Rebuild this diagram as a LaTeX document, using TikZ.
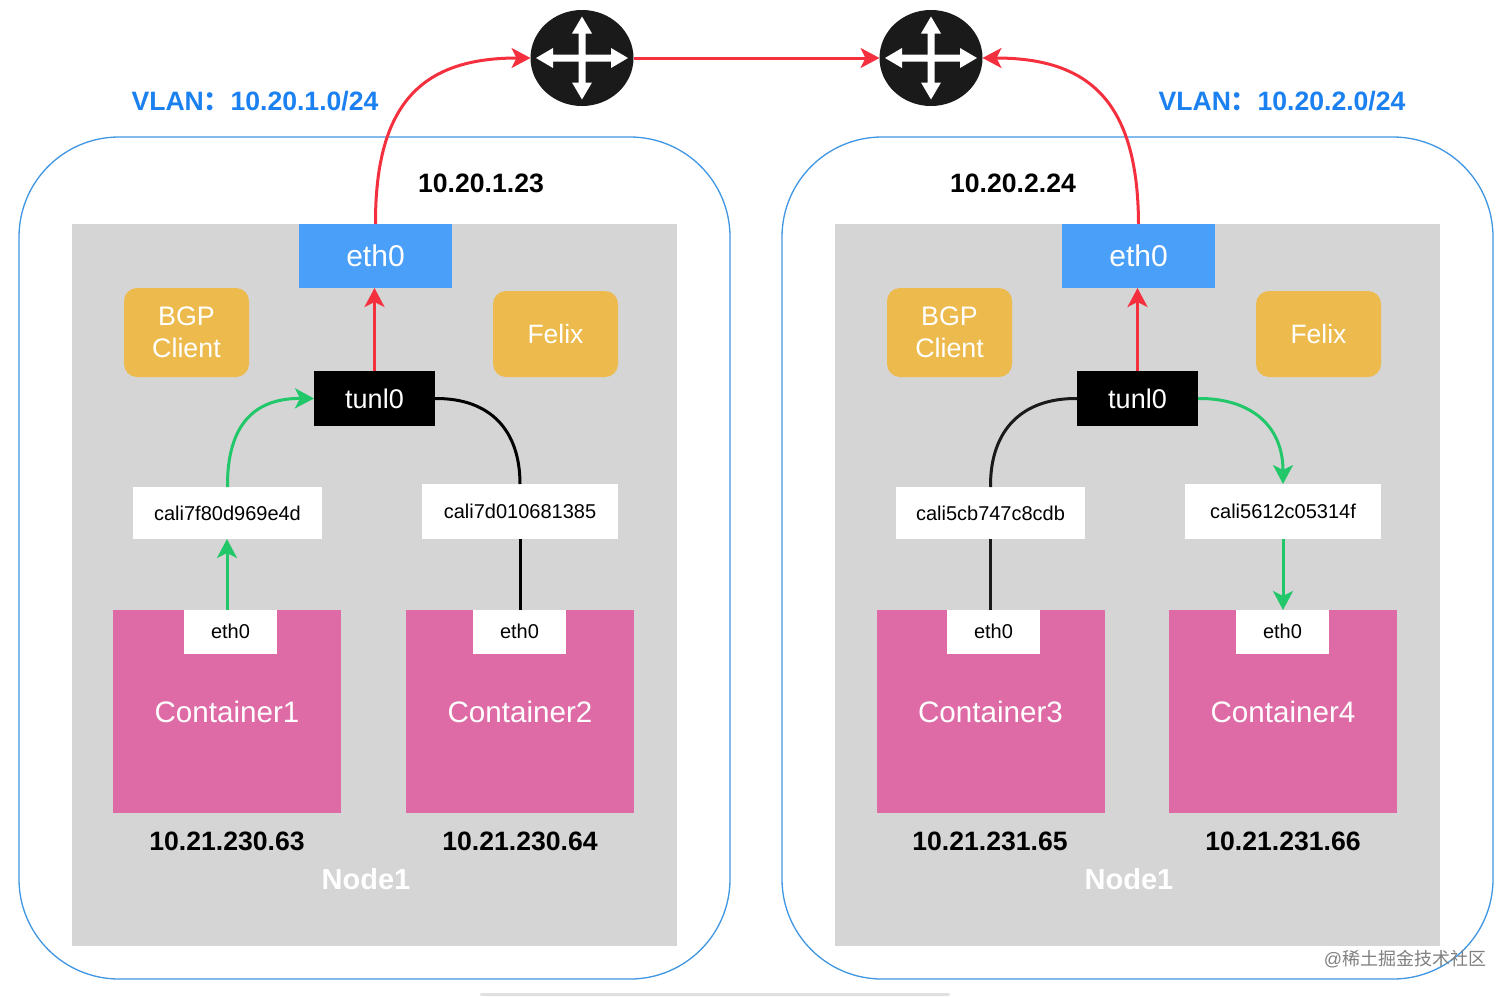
\documentclass[tikz,border=0pt]{standalone}
\usepackage{fontspec}
\setmainfont{Liberation Sans}
\newfontfamily\cjk{Noto Sans CJK SC}
\usetikzlibrary{arrows.meta,shapes.geometric}
\definecolor{nodegray}{HTML}{D5D5D5}
\definecolor{boxblue}{HTML}{4A9FF9}
\definecolor{edgeblue}{HTML}{3F96E2}
\definecolor{labelblue}{HTML}{1B80F0}
\definecolor{gold}{HTML}{EDBB4D}
\definecolor{pink}{HTML}{DF6BA6}
\definecolor{linered}{HTML}{F5303E}
\definecolor{linegreen}{HTML}{22C76A}
\definecolor{routerblack}{HTML}{1A1A1A}
\newcommand{\fs}[1]{\fontsize{#1}{#1}\selectfont}
\tikzset{
  x=1pt,y=-1pt,
  box/.style={inner sep=0,outer sep=0,align=center},
  hostbox/.style={box,draw=edgeblue,line width=1.3pt,fill=white,rounded corners=100pt,minimum width=711pt,minimum height=842pt},
  grayarea/.style={box,fill=nodegray,minimum width=605pt,minimum height=722pt},
  ethbig/.style={box,fill=boxblue,text=white,minimum width=153pt,minimum height=64pt,font=\fs{30}},
  bgpbox/.style={box,fill=gold,text=white,rounded corners=13pt,minimum width=125pt,minimum height=89pt,font=\fontsize{26.8}{32}\selectfont},
  felixbox/.style={box,fill=gold,text=white,rounded corners=13pt,minimum width=125pt,minimum height=86pt,font=\fs{26.5}},
  tunbox/.style={box,fill=black,text=white,minimum width=121pt,minimum height=55pt,font=\fs{27}},
  calibox/.style={box,fill=white,text=black,minimum height=52pt,font=\fs{20}},
  containerbox/.style={box,fill=pink,text=white,minimum width=228pt,minimum height=203pt,font=\fs{29.6}},
  ethsmall/.style={box,fill=white,text=black,minimum width=93pt,minimum height=44pt,font=\fs{20}},
  iplabel/.style={box,text=black,font=\bfseries\fs{26.6}},
  nodelabel/.style={box,text=white,font=\bfseries\fs{29}},
  vlanlabel/.style={box,text=labelblue,font=\bfseries\fs{26.6}},
  routerbody/.style={ellipse,inner sep=0,outer sep=0,fill=routerblack,minimum width=103pt,minimum height=96pt},
  link/.style={line width=3pt,-{Stealth[length=19pt,width=20pt,inset=5pt]}},
  plainlink/.style={line width=3pt},
  redl/.style={link,color=linered},
  greenl/.style={link,color=linegreen},
  crossmark/.pic={
    \fill[white] (-3.5,-3.5) -- (-3.5,-24.5) -- (-10,-24.5) -- (0,-41.5) -- (10,-24.5) -- (3.5,-24.5) -- (3.5,-3.5)
      -- (29,-3.5) -- (29,-10) -- (46,0) -- (29,10) -- (29,3.5) -- (3.5,3.5)
      -- (3.5,24.5) -- (10,24.5) -- (0,41.5) -- (-10,24.5) -- (-3.5,24.5) -- (-3.5,3.5)
      -- (-29,3.5) -- (-29,10) -- (-46,0) -- (-29,-10) -- (-29,-3.5) -- cycle;
  }
}
\begin{document}
\begin{tikzpicture}
\useasboundingbox (0,0) rectangle (1512,996);
% scrollbar sliver at the bottom edge
\fill[black!12,rounded corners=2pt] (480,993) rectangle (950,996);

% hosts
\node[hostbox] (hostL) at (374.5,558) {};
\node[hostbox] (hostR) at (1137.5,558) {};
\node[grayarea] (areaL) at (374.5,585) {};
\node[grayarea] (areaR) at (1137.5,585) {};

% routers
\node[routerbody] (r1) at (582,58) {};
\node[routerbody] (r2) at (931,58) {};
\pic at (r1.center) {crossmark};
\pic at (r2.center) {crossmark};

% left node
\node[ethbig] (ethL) at (375.5,256) {eth0};
\node[bgpbox] (bgpL) at (186.5,332.5) {BGP\\Client};
\node[felixbox] (felixL) at (555.5,334) {Felix};
\node[tunbox] (tunL) at (374.5,398.5) {tunl0};
\node[calibox,minimum width=189pt] (cali1) at (227.5,513) {cali7f80d969e4d};
\node[calibox,minimum width=196pt,minimum height=55pt] (cali2) at (520,511.5) {cali7d010681385};
\node[containerbox] (c1) at (227,711.5) {Container1};
\node[containerbox] (c2) at (520,711.5) {Container2};
\node[ethsmall] (e1) at (230.5,631.5) {eth0};
\node[ethsmall] (e2) at (519.5,631.5) {eth0};

% right node
\node[ethbig] (ethR) at (1138.5,256) {eth0};
\node[bgpbox] (bgpR) at (949.5,332.5) {BGP\\Client};
\node[felixbox] (felixR) at (1318.5,334) {Felix};
\node[tunbox] (tunR) at (1137.5,398.5) {tunl0};
\node[calibox,minimum width=189pt] (cali3) at (990.5,513) {cali5cb747c8cdb};
\node[calibox,minimum width=196pt,minimum height=55pt] (cali4) at (1283,511.5) {cali5612c05314f};
\node[containerbox] (c3) at (990.5,711.5) {Container3};
\node[containerbox] (c4) at (1283,711.5) {Container4};
\node[ethsmall] (e3) at (993.5,631.5) {eth0};
\node[ethsmall] (e4) at (1282.5,631.5) {eth0};

% labels
\node[iplabel] (ipA) at (481,183) {10.20.1.23};
\node[iplabel] (ipB) at (1013,183) {10.20.2.24};
\node[iplabel] (ip1) at (227,841) {10.21.230.63};
\node[iplabel] (ip2) at (520,841) {10.21.230.64};
\node[iplabel] (ip3) at (990,841) {10.21.231.65};
\node[iplabel] (ip4) at (1283,841) {10.21.231.66};
\node[nodelabel] (nL) at (366,879) {Node1};
\node[nodelabel] (nR) at (1129,879) {Node1};
\node[vlanlabel] (vL) at (255,101) {VLAN{\cjk\bfseries：}10.20.1.0/24};
\node[vlanlabel] (vR) at (1282,101) {VLAN{\cjk\bfseries：}10.20.2.0/24};
\node[box,text=black!50,font=\fs{18}] (wm) at (1405,959) {@{\cjk 稀土掘金技术社区}};

% connectors
\draw[redl] (ethL.north) .. controls (375,100) and (425,58) .. (r1.west);
\draw[redl] (r1.east) -- (r2.west);
\draw[redl] (ethR.north) .. controls (1138,100) and (1088,58) .. (r2.east);
\draw[redl] (tunL.north) -- (tunL.north |- ethL.south);
\draw[redl] (tunR.north) -- (tunR.north |- ethR.south);

\draw[greenl] (cali1.north) .. controls (227,430) and (250,398) .. (tunL.west);
\draw[greenl] (c1.north) -- (c1.north |- cali1.south);
\draw[plainlink,color=black] (tunL.east) .. controls (490,398) and (520,430) .. (cali2.north);
\draw[plainlink,color=black] (c2.north) -- (cali2.south);

\draw[plainlink,color=routerblack] (tunR.west) .. controls (1022,398) and (990,430) .. (cali3.north);
\draw[plainlink,color=routerblack] (c3.north) -- (cali3.south);
\draw[greenl] (tunR.east) .. controls (1250,398) and (1283,425) .. (cali4.north);
\draw[greenl] (cali4.south) -- (c4.north);
\end{tikzpicture}
\end{document}
